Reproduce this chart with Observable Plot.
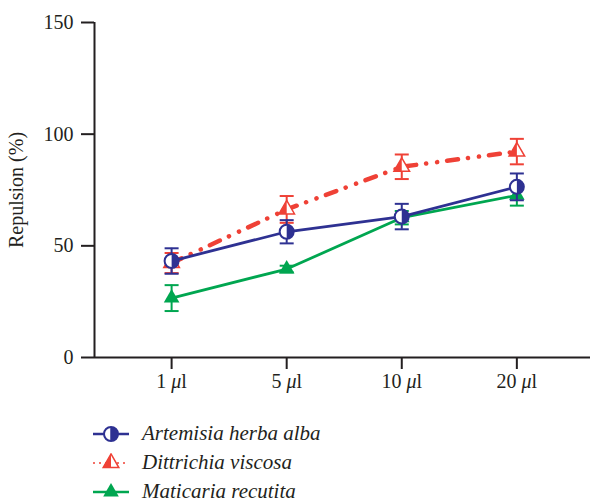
<!DOCTYPE html>
<html>
<head>
<meta charset="utf-8">
<script src="https://cdn.jsdelivr.net/npm/d3@7"></script>
<script src="https://cdn.jsdelivr.net/npm/@observablehq/plot@0.6"></script>
<style>
  html, body { margin: 0; padding: 0; background: #fff; }
  #chart { width: 595px; }
  .legend { font-family: "Liberation Serif", "DejaVu Serif", serif; font-style: italic; font-size: 21px; color: #231f20; margin-left: 92px; margin-top: 19px; }
  .legend .row { display: flex; align-items: center; height: 29px; }
  .legend svg { margin-right: 12px; }
</style>
</head>
<body>
<div id="chart"></div>
<script>
const doses = ["1 μl", "5 μl", "10 μl", "20 μl"];
const seriesNames = ["Artemisia herba alba", "Dittrichia viscosa", "Maticaria recutita"];
const artemisia = [43.2, 56.3, 63.1, 76.4];
const artemisiaErr = [5.7, 5.2, 5.7, 6.0];
const dittrichia = [42.3, 66.3, 85.4, 92.2];
const dittrichiaErr = [4.5, 6.0, 5.5, 5.7];
const maticaria = [26.6, 39.6, 62.6, 72.6];
const maticariaErr = [5.8, 1.5, 3.0, 4.6];
const yTicks = [0, 50, 100, 150];

const colors = {navy: "#2e3192", red: "#ef4136", green: "#00a650"};

function rows(vals, errs) {
  return vals.map((v, i) => ({i, v, lo: v - errs[i], hi: v + errs[i]}));
}
const A = rows(artemisia, artemisiaErr);
const D = rows(dittrichia, dittrichiaErr);
const M = rows(maticaria, maticariaErr);

// custom symbols
const capSymbol = {draw(ctx, size) { const r = Math.sqrt(size / Math.PI); ctx.moveTo(-r, 0); ctx.lineTo(r, 0); }};
const rightHalfCircle = {draw(ctx, size) { const r = Math.sqrt(size / Math.PI); ctx.moveTo(0, -r); ctx.arc(0, 0, r, -Math.PI / 2, Math.PI / 2); ctx.closePath(); }};
const leftHalfTriangle = {draw(ctx, size) {
  const y = -Math.sqrt(size / (3 * Math.sqrt(3)));
  ctx.moveTo(0, y * 2); ctx.lineTo(Math.sqrt(3) * y, -y); ctx.lineTo(0, -y); ctx.closePath();
}};

function errMarks(data, color) {
  return [
    Plot.ruleX(data, {x: "i", y1: "lo", y2: "hi", stroke: color, strokeWidth: 2}),
    Plot.dot(data, {x: "i", y: "lo", symbol: capSymbol, r: 7, stroke: color, strokeWidth: 2, fill: "none"}),
    Plot.dot(data, {x: "i", y: "hi", symbol: capSymbol, r: 7, stroke: color, strokeWidth: 2, fill: "none"})
  ];
}

const plot = Plot.plot({
  width: 595,
  height: 400,
  marginLeft: 94,
  marginRight: 5,
  marginTop: 22,
  marginBottom: 43,
  style: {fontFamily: "Liberation Serif, DejaVu Serif, serif", fontSize: "20px", color: "#231f20", background: "#fff"},
  x: {type: "linear", domain: [-0.67, 3.64]},
  y: {domain: [0, 150]},
  marks: [
    Plot.axisY({ticks: yTicks, tickSize: 13, tickPadding: 8, strokeWidth: 2, label: null, fontSize: 20}),
    Plot.axisX({ticks: [0, 1, 2, 3], tickFormat: i => doses[i], tickSize: 12, tickPadding: 4, strokeWidth: 2, label: null, fontSize: 20}),
    Plot.text(["Repulsion (%)"], {frameAnchor: "left", dx: -78, rotate: -90, textAnchor: "middle", fontSize: 20, fill: "#231f20"}),
    Plot.ruleY([0], {stroke: "#231f20", strokeWidth: 2}),
    Plot.ruleX([-0.67], {stroke: "#231f20", strokeWidth: 2}),
    // Dittrichia
    Plot.line(D, {x: "i", y: "v", stroke: colors.red, strokeWidth: 4.5, strokeDasharray: "11,10,0.1,11,0.1,10", strokeLinecap: "round"}),
    ...errMarks(D, colors.red),
    Plot.dot(D, {x: "i", y: "v", symbol: "triangle", r: 5.8, fill: "#fff", stroke: colors.red, strokeWidth: 1.5}),
    Plot.dot(D, {x: "i", y: "v", symbol: leftHalfTriangle, r: 5.8, fill: colors.red}),
    // Maticaria
    Plot.line(M, {x: "i", y: "v", stroke: colors.green, strokeWidth: 2.8}),
    ...errMarks(M, colors.green),
    Plot.dot(M, {x: "i", y: "v", symbol: "triangle", r: 5.8, fill: colors.green}),
    // Artemisia
    Plot.line(A, {x: "i", y: "v", stroke: colors.navy, strokeWidth: 2.8}),
    ...errMarks(A, colors.navy),
    Plot.dot(A, {x: "i", y: "v", r: 7, fill: "#fff", stroke: colors.navy, strokeWidth: 2}),
    Plot.dot(A, {x: "i", y: "v", symbol: rightHalfCircle, r: 7, fill: colors.navy})
  ]
});
document.getElementById("chart").appendChild(plot);

// italicise the Greek mu in x tick labels
d3.select(plot).selectAll("g[aria-label='x-axis tick label'] text").each(function() {
  const t = this.textContent;
  const k = t.indexOf("μ");
  if (k < 0) return;
  const sel = d3.select(this);
  sel.text(null);
  sel.append("tspan").text(t.slice(0, k));
  sel.append("tspan").attr("font-style", "italic").text("μ");
  sel.append("tspan").text(t.slice(k + 1));
});

// Legend
const legend = d3.select("#chart").append("div").attr("class", "legend");
const specs = [
  {name: seriesNames[0], color: colors.navy, kind: "circle", dash: null, w: 2.5},
  {name: seriesNames[1], color: colors.red, kind: "halftri", dash: "2,4", w: 1.5},
  {name: seriesNames[2], color: colors.green, kind: "tri", dash: null, w: 2.5}
];
for (const s of specs) {
  const row = legend.append("div").attr("class", "row");
  const svg = row.append("svg").attr("width", 38).attr("height", 20);
  svg.append("line").attr("x1", 1).attr("x2", 37).attr("y1", 10).attr("y2", 10)
    .attr("stroke", s.color).attr("stroke-width", s.w).attr("stroke-dasharray", s.dash);
  const g = svg.append("g").attr("transform", "translate(19,10)");
  const sz = 5.8 * 5.8 * Math.PI;
  if (s.kind === "circle") {
    g.append("circle").attr("r", 7).attr("fill", "#fff").attr("stroke", s.color).attr("stroke-width", 2);
    g.append("path").attr("d", d3.symbol(rightHalfCircle, 49 * Math.PI)()).attr("fill", s.color);
    g.append("line").attr("y1", -7).attr("y2", 7).attr("stroke", s.color).attr("stroke-width", 1.5);
  } else if (s.kind === "halftri") {
    g.append("path").attr("d", d3.symbol(d3.symbolTriangle, sz)()).attr("fill", "#fff").attr("stroke", s.color).attr("stroke-width", 1.5);
    g.append("path").attr("d", d3.symbol(leftHalfTriangle, sz)()).attr("fill", s.color);
  } else {
    g.append("path").attr("d", d3.symbol(d3.symbolTriangle, sz)()).attr("fill", s.color);
  }
  row.append("span").text(s.name);
}
</script>
</body>
</html>
